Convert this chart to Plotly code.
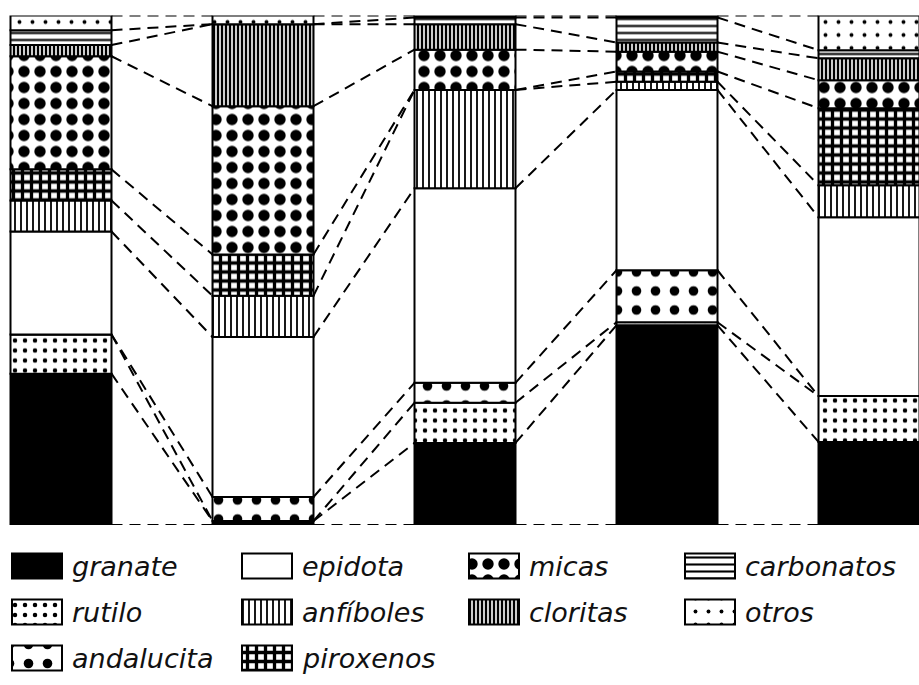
import numpy as np
import plotly.graph_objects as go

# ---- data (percent of heavy-mineral fraction, bottom -> top) ----
samples = ["1", "2", "3", "4", "5"]
minerals = ["granate", "rutilo", "andalucita", "epidota", "anfíboles",
            "piroxenos", "micas", "cloritas", "carbonatos", "otros"]
granate    = [29.7, 0.8, 16.1, 39.2, 16.3]
rutilo     = [7.7, 0.0, 7.9, 0.6, 9.0]
andalucita = [0.0, 4.7, 3.9, 10.2, 0.0]
epidota    = [20.2, 31.4, 38.2, 35.4, 35.1]
anfiboles  = [6.1, 8.1, 19.3, 1.6, 6.3]
piroxenos  = [6.1, 8.1, 0.0, 2.0, 15.1]
micas      = [22.2, 29.1, 7.9, 3.9, 5.5]
cloritas   = [2.2, 16.1, 5.0, 1.8, 4.3]
carbonatos = [2.9, 0.0, 1.3, 4.9, 1.6]
otros      = [2.9, 1.7, 0.4, 0.4, 6.8]
series = [granate, rutilo, andalucita, epidota, anfiboles,
          piroxenos, micas, cloritas, carbonatos, otros]

# legend layout (row-major order as in the original key)
legend_order = ["granate", "epidota", "micas", "carbonatos",
                "rutilo", "anfíboles", "cloritas", "otros",
                "andalucita", "piroxenos"]

# ---- styles ----
W, H = 919, 685
BAR_W = 0.5
PX0, PX_STEP = 61, 202          # pixel centre of first bar, spacing
Y_BOT, Y_TOP = 525, 15.5        # pixel rows of 0 % and 100 %

patterns = {
    "granate":    None,
    "rutilo":     dict(shape=".", size=10, solidity=0.16),
    "andalucita": dict(shape=".", size=19, solidity=0.2),
    "epidota":    dict(shape="", size=8, solidity=0.3),
    "anfíboles":  dict(shape="|", size=6, solidity=0.3),
    "piroxenos":  dict(shape="+", size=9, solidity=0.6),
    "micas":      dict(shape=".", size=16, solidity=0.4),
    "cloritas":   dict(shape="|", size=4, solidity=0.6),
    "carbonatos": dict(shape="-", size=7, solidity=0.3),
    "otros":      dict(shape=".", size=13, solidity=0.07),
}

def marker_for(name):
    p = patterns[name]
    if p is None:
        return dict(color="black", line=dict(color="black", width=2))
    return dict(color="white",
                pattern=dict(fgcolor="black", bgcolor="white",
                             fillmode="replace", **p),
                line=dict(color="black", width=2))

fig = go.Figure()

x = np.arange(len(samples), dtype=float)
vals = np.array(series)                   # (n_minerals, n_samples)
cum = np.vstack([np.zeros(len(samples)), np.cumsum(vals, axis=0)])

# stacked bars (explicit bases from cumulative sums)
for k, name in enumerate(minerals):
    fig.add_trace(go.Bar(
        x=x, y=vals[k], base=cum[k], width=BAR_W,
        marker=marker_for(name), name=name, showlegend=False,
        hoverinfo="skip"))

# dashed connectors between every boundary of adjacent columns
lx, ly = [], []
for i in range(len(samples) - 1):
    for k in range(cum.shape[0]):
        lx += [x[i] + BAR_W / 2, x[i + 1] - BAR_W / 2, None]
        ly += [cum[k, i], cum[k, i + 1], None]
fig.add_trace(go.Scatter(x=lx, y=ly, mode="lines", showlegend=False,
                         line=dict(color="black", width=2, dash="11px,7px"),
                         hoverinfo="skip"))

# ---- key (drawn as small patterned bars on a pixel-scaled axis) ----
col_x = [12, 242, 469, 685]
row_y = [566, 612, 658]
SW_W, SW_H = 50, 25
annotations = []
for j, name in enumerate(legend_order):
    r, c = divmod(j, 4)
    fig.add_trace(go.Bar(
        x=[SW_W], y=[row_y[r]], base=[col_x[c]], width=SW_H, orientation="h",
        marker=marker_for(name), showlegend=False, hoverinfo="skip",
        xaxis="x2", yaxis="y2"))
    annotations.append(dict(
        x=col_x[c] + SW_W + 8, y=row_y[r], xref="x2", yref="y2",
        text=name, showarrow=False, xanchor="left", yanchor="middle",
        font=dict(family="DejaVu Sans", size=27, color="#111", style="italic")))

fig.update_layout(
    width=W, height=H, margin=dict(l=0, r=0, t=0, b=0),
    paper_bgcolor="white", plot_bgcolor="white",
    barmode="overlay", bargap=0,
    annotations=annotations,
    xaxis=dict(range=[-PX0 / PX_STEP, (W - PX0) / PX_STEP], domain=[0, 1],
               visible=False, showgrid=False, zeroline=False),
    yaxis=dict(range=[0, 100], domain=[1 - Y_BOT / H, 1 - Y_TOP / H],
               visible=False, showgrid=False, zeroline=False),
    xaxis2=dict(range=[0, W], domain=[0, 1], anchor="y2",
                visible=False, showgrid=False, zeroline=False),
    yaxis2=dict(range=[H, 540], domain=[0, 1 - 540 / H], anchor="x2",
                visible=False, showgrid=False, zeroline=False),
)

fig.write_html("out.html",
               config={"displayModeBar": False, "staticPlot": True},
               post_script="document.body.style.margin='0';"
                           "document.body.style.overflow='hidden';")
